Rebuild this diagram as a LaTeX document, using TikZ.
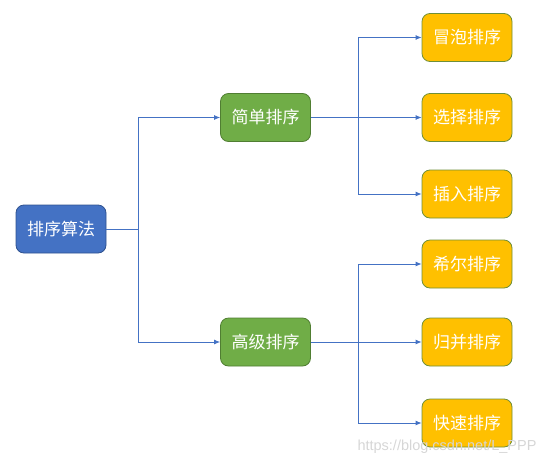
\documentclass[tikz,border=0pt]{standalone}
\usepackage{fontspec}
\newfontfamily\cjk{Noto Sans CJK SC}
\newfontfamily\marksans{Liberation Sans}
\usepackage{tikz}
\tikzset{>=latex}
\usetikzlibrary{arrows.meta, positioning}
\definecolor{rootblue}{HTML}{4472C4}
\definecolor{rootedge}{HTML}{2F528F}
\definecolor{midgreen}{HTML}{70AD47}
\definecolor{midedge}{HTML}{507E32}
\definecolor{leafyellow}{HTML}{FFC000}
\definecolor{leafedge}{HTML}{6F8F38}
\def\boxwidth{90}
\def\boxheight{48}
\def\trunkone{138}
\def\trunktwo{358}
\tikzset{
  sortbox/.style={rounded corners=8pt, minimum width=\boxwidth pt, minimum height=\boxheight pt, inner sep=0pt, text=white, font=\cjk\fontsize{17}{17}\selectfont, line width=0.8pt},
  rootbox/.style={sortbox, draw=rootedge, fill=rootblue},
  midbox/.style={sortbox, draw=midedge, fill=midgreen},
  leafbox/.style={sortbox, draw=leafedge, fill=leafyellow},
  link/.style={draw=rootblue, line width=0.8pt},
  linkarrow/.style={link, -{Latex[length=6pt,width=5pt]}}
}
\begin{document}
\begin{tikzpicture}[x=1pt, y=-1pt]

\useasboundingbox (0,0) rectangle (548,466);

% Boxes
\node[rootbox] (algo) at (61, 229) {排序算法};
\node[midbox] (simple) at (265.5, 117.5) {简单排序};
\node[midbox] (advanced) at (265.5, 342) {高级排序};

\node[leafbox] (bubble) at (467, 37.5) {冒泡排序};
\node[leafbox] (select) at (467, 117.5) {选择排序};
\node[leafbox] (insert) at (467, 194) {插入排序};
\node[leafbox] (shell) at (467, 264) {希尔排序};
\node[leafbox] (merge) at (467, 342) {归并排序};
\node[leafbox] (quick) at (467, 423) {快速排序};

% Trunk points
\coordinate (rootfork) at (\trunkone, 229);
\coordinate (simplefork) at (\trunktwo, 117.5);
\coordinate (advancedfork) at (\trunktwo, 342);

% Root to middle level
\draw[link] (algo.east) -- (rootfork);
\draw[linkarrow] (rootfork) |- (simple.west);
\draw[linkarrow] (rootfork) |- (advanced.west);

% Simple sorts
\draw[link] (simple.east) -- (simplefork);
\draw[linkarrow] (simplefork) |- (bubble.west);
\draw[linkarrow] (simplefork) -- (select.west);
\draw[linkarrow] (simplefork) |- (insert.west);

% Advanced sorts
\draw[link] (advanced.east) -- (advancedfork);
\draw[linkarrow] (advancedfork) |- (shell.west);
\draw[linkarrow] (advancedfork) -- (merge.west);
\draw[linkarrow] (advancedfork) |- (quick.west);

% Watermark
\node[text=black!16, font=\marksans\fontsize{14.5}{14.5}\selectfont, anchor=east] (mark) at (540, 447) {https://blog.csdn.net/L\_PPP};

\end{tikzpicture}
\end{document}
